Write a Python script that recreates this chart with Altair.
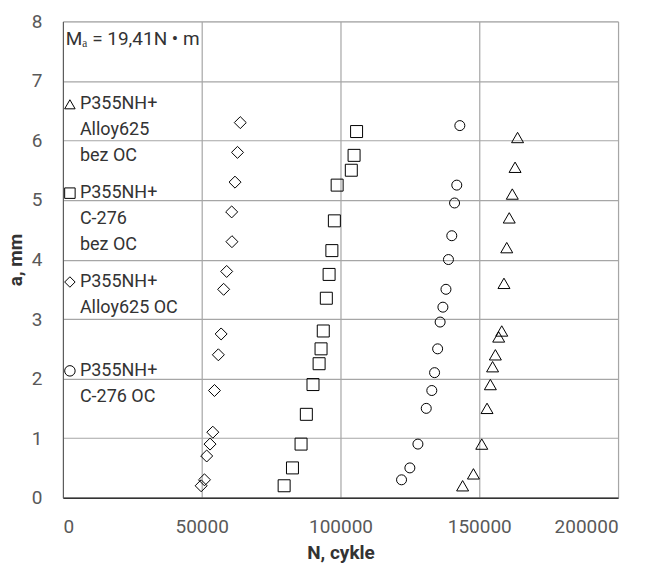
import altair as alt
import pandas as pd

# ---- data ----
series_names = [
    "P355NH+|Alloy625|bez OC",
    "P355NH+|C-276|bez OC",
    "P355NH+|Alloy625 OC| ",
    "P355NH+|C-276 OC| ",
]
series_shapes = ["triangle-up", "square", "diamond", "circle"]

tri_N = [144000, 147900, 150900, 152800, 154000, 154800, 155800, 157000, 158100, 158900, 159900, 160800, 161900, 162900, 163800]
tri_a = [0.2, 0.4, 0.9, 1.5, 1.9, 2.2, 2.4, 2.7, 2.8, 3.6, 4.2, 4.7, 5.1, 5.55, 6.05]

sq_N = [79700, 82700, 85800, 87700, 90100, 92300, 93000, 93800, 94900, 95900, 96900, 97800, 98800, 103900, 104900, 105800]
sq_a = [0.2, 0.5, 0.9, 1.4, 1.9, 2.25, 2.5, 2.8, 3.35, 3.75, 4.15, 4.65, 5.25, 5.5, 5.75, 6.15]

dia_N = [49800, 51000, 51800, 53000, 54000, 54600, 56000, 57000, 57900, 59000, 60900, 60800, 62000, 62900, 63900]
dia_a = [0.2, 0.3, 0.7, 0.9, 1.1, 1.8, 2.4, 2.75, 3.5, 3.8, 4.3, 4.8, 5.3, 5.8, 6.3]

cir_N = [122000, 125000, 127900, 130900, 132900, 133900, 135000, 135900, 136900, 138000, 138900, 140100, 141100, 141900, 143000]
cir_a = [0.3, 0.5, 0.9, 1.5, 1.8, 2.1, 2.5, 2.95, 3.2, 3.5, 4.0, 4.4, 4.95, 5.25, 6.25]

x_ticks = [0, 50000, 100000, 150000, 200000]
y_ticks = [0, 1, 2, 3, 4, 5, 6, 7, 8]

annotation_text = "Mₐ = 19,41N • m"
annotation_N = [1000]
annotation_a = [7.7]

x_title = "N, cykle"
y_title = "a, mm"

# ---- build table ----
rows = []
for name, Ns, As in zip(series_names, [tri_N, sq_N, dia_N, cir_N], [tri_a, sq_a, dia_a, cir_a]):
    for n, a in zip(Ns, As):
        rows.append({"series": name, "N": n, "a": a})
df = pd.DataFrame(rows)

FONT = "Roboto"

x_enc = alt.X(
    "N:Q",
    scale=alt.Scale(domain=[0, 200000], nice=False),
    axis=alt.Axis(
        values=x_ticks, format="d", title=x_title, grid=True,
        labelFontSize=19, labelColor="#595959", labelFont=FONT, labelPadding=20,
        tickSize=0, ticks=False, domainColor="#333333", domainWidth=1.5,
        titleFontSize=19, titleFont=FONT, titleFontWeight="bold", titleColor="#333333",
        titleY=46, titleBaseline="top",
        gridColor="#A6A6A6", gridWidth=1.2,
    ),
)
y_enc = alt.Y(
    "a:Q",
    scale=alt.Scale(domain=[0, 8], nice=False),
    axis=alt.Axis(
        values=y_ticks, format="d", title=y_title, grid=True,
        labelFontSize=19, labelColor="#595959", labelFont=FONT, labelPadding=21,
        tickSize=0, ticks=False, domainColor="#555555", domainWidth=1,
        titleFontSize=19, titleFont=FONT, titleFontWeight="bold", titleColor="#333333",
        titleX=-41, titleBaseline="alphabetic",
        gridColor="#A6A6A6", gridWidth=1.2,
    ),
)

shape_enc = alt.Shape(
    "series:N",
    scale=alt.Scale(domain=series_names, range=series_shapes),
    legend=alt.Legend(
        title=None, orient="none", legendX=-2, legendY=74,
        labelExpr="split(datum.label, '|')",
        labelFont=FONT, labelFontSize=18, labelColor="#333333",
        labelLimit=300, labelOffset=1, labelBaseline="middle",
        symbolSize=110, symbolStrokeColor="black", symbolFillColor="white",
        symbolStrokeWidth=1, rowPadding=19, padding=0,
    ),
)

base = alt.Chart(df)
big = base.transform_filter(alt.datum.series != series_names[3]).mark_point(
    filled=False, stroke="black", strokeWidth=1, opacity=1, size=144
).encode(x=x_enc, y=y_enc, shape=shape_enc)
small = base.transform_filter(alt.datum.series == series_names[3]).mark_point(
    filled=False, stroke="black", strokeWidth=1, opacity=1, size=100
).encode(x=x_enc, y=y_enc, shape=shape_enc)

ann_df = pd.DataFrame({"N": annotation_N, "a": annotation_a, "t": [annotation_text]})
ann = alt.Chart(ann_df).mark_text(
    align="left", baseline="middle", font=FONT, fontSize=19, color="#333333"
).encode(x="N:Q", y="a:Q", text="t:N")

chart = alt.layer(big, small, ann).properties(
    width=556, height=477,
    autosize=alt.AutoSizeParams(type="none"),
    padding={"left": 55, "top": 13, "right": 30, "bottom": 66},
).configure_view(stroke=None).configure(
    style={"guide-label": {"lineHeight": 26}}
)

chart.save("out.html", embed_options={"renderer": "svg", "actions": False})
